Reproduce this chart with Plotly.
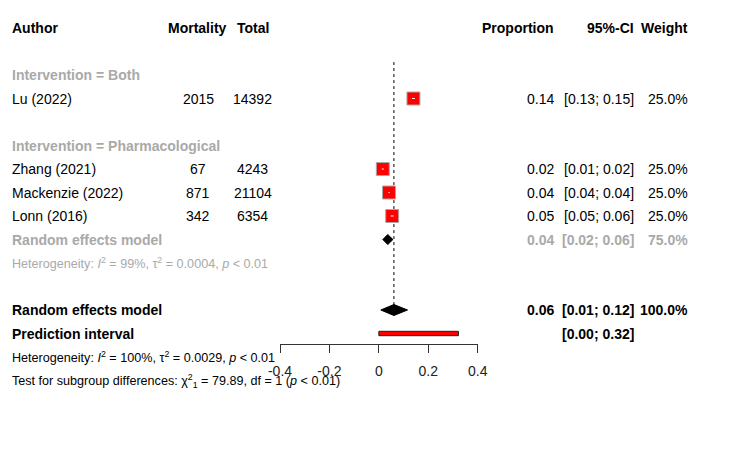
import plotly.graph_objects as go

# ---------------- data ----------------
authors = ["Lu (2022)", "Zhang (2021)", "Mackenzie (2022)", "Lonn (2016)"]
mortality = [2015, 67, 871, 342]
total = [14392, 4243, 21104, 6354]
prop = [0.140, 0.016, 0.041, 0.054]
lower = [0.134, 0.012, 0.039, 0.048]
upper = [0.146, 0.020, 0.044, 0.060]
weight = [25.0, 25.0, 25.0, 25.0]
study_rows = [3, 6, 7, 8]

group_labels = ["Intervention = Both", "Intervention = Pharmacological"]
group_rows = [2, 5]

sub_re = {"est": 0.036, "lo": 0.016, "hi": 0.057, "w": 75.0, "row": 9}
sub_het = "Heterogeneity: <i>I</i><sup>2</sup> = 99%, τ<sup>2</sup> = 0.0004, <i>p</i> &lt; 0.01"
overall = {"est": 0.061, "lo": 0.008, "hi": 0.116, "w": 100.0, "row": 12}
pred = {"lo": 0.000, "hi": 0.322, "row": 13}
het_all = "Heterogeneity: <i>I</i><sup>2</sup> = 100%, τ<sup>2</sup> = 0.0029, <i>p</i> &lt; 0.01"
test_sub = "Test for subgroup differences: χ<sup>2</sup><sub>1</sub> = 79.89, df = 1 (<i>p</i> &lt; 0.01)"

tick_vals = [-0.4, -0.2, 0, 0.2, 0.4]
tick_text = ["-0.4", "-0.2", "0", "0.2", "0.4"]

# ---------------- layout constants ----------------
W, H = 750, 456
ROW0, ROWH = 28, 23.5
FONT = "Liberation Sans, Arial, sans-serif"
GRAY = "#A9A9A9"
FS = 14
FS_SMALL = 12.6

def f2(v):
    return f"{v:.2f}"

def ci(lo, hi):
    return f"[{f2(lo)}; {f2(hi)}]"

fig = go.Figure()
ann = []

def txt(x, row, text, anchor="left", color="black", size=FS, bold=False):
    if bold:
        text = f"<b>{text}</b>"
    ann.append(dict(x=x / W, y=row, xref="paper", yref="y", text=text,
                    xanchor=anchor, yanchor="middle", showarrow=False,
                    font=dict(family=FONT, size=size, color=color),
                    borderpad=0))

# header
txt(11, 0, "Author", bold=True)
txt(197.5, 0, "Mortality", anchor="center", bold=True)
txt(253, 0, "Total", anchor="center", bold=True)
txt(555, 0, "Proportion", anchor="right", bold=True)
txt(635, 0, "95%-CI", anchor="right", bold=True)
txt(689, 0, "Weight", anchor="right", bold=True)

for lab, r in zip(group_labels, group_rows):
    txt(11, r, lab, color=GRAY, bold=True)

for a, m, t, p, lo, hi, w, r in zip(authors, mortality, total, prop, lower, upper, weight, study_rows):
    txt(11, r, a)
    txt(198, r, str(m), anchor="center")
    txt(252.5, r, str(t), anchor="center")
    txt(555, r, f2(p), anchor="right")
    txt(635, r, ci(lo, hi), anchor="right")
    txt(689, r, f"{w:.1f}%", anchor="right")

# subgroup random effects
r = sub_re["row"]
txt(11, r, "Random effects model", color=GRAY, bold=True)
txt(555, r, f2(sub_re["est"]), anchor="right", color=GRAY, bold=True)
txt(635, r, ci(sub_re["lo"], sub_re["hi"]), anchor="right", color=GRAY, bold=True)
txt(689, r, f"{sub_re['w']:.1f}%", anchor="right", color=GRAY, bold=True)
txt(11, 10, sub_het, color=GRAY, size=FS_SMALL)

# overall
r = overall["row"]
txt(11, r, "Random effects model", bold=True)
txt(555, r, f2(overall["est"]), anchor="right", bold=True)
txt(635, r, ci(overall["lo"], overall["hi"]), anchor="right", bold=True)
txt(689, r, f"{overall['w']:.1f}%", anchor="right", bold=True)
r = pred["row"]
txt(11, r, "Prediction interval", bold=True)
txt(635, r, ci(pred["lo"], pred["hi"]), anchor="right", bold=True)
txt(11, 14, het_all, size=FS_SMALL)
txt(11, 15, test_sub, size=FS_SMALL)

# ---------------- marks ----------------
# reference dotted line at overall estimate
fig.add_trace(go.Scatter(x=[overall["est"], overall["est"]], y=[1.45, 12],
                         mode="lines", line=dict(color="black", width=1, dash="dot"),
                         hoverinfo="skip"))

# study squares
fig.add_trace(go.Scatter(x=prop, y=study_rows, mode="markers",
                         marker=dict(symbol="square", size=13, color="#FF0000",
                                     line=dict(color="#AAAAAA", width=1)),
                         hoverinfo="skip"))
# CIs (white inside the squares)
for lo, hi, r in zip(lower, upper, study_rows):
    fig.add_trace(go.Scatter(x=[lo, hi], y=[r, r], mode="lines",
                             line=dict(color="white", width=1), hoverinfo="skip"))

def diamond(d, half):
    r = d["row"]
    fig.add_trace(go.Scatter(x=[d["lo"], d["est"], d["hi"], d["est"], d["lo"]],
                             y=[r, r - half, r, r + half, r],
                             mode="lines", fill="toself", fillcolor="black",
                             line=dict(color="black", width=1), hoverinfo="skip"))

diamond(sub_re, 5 / ROWH)
diamond(overall, 5.5 / ROWH)

# prediction interval bar
ph = 2.2 / ROWH
r = pred["row"]
fig.add_trace(go.Scatter(x=[pred["lo"], pred["hi"], pred["hi"], pred["lo"], pred["lo"]],
                         y=[r - ph, r - ph, r + ph, r + ph, r - ph],
                         mode="lines", fill="toself", fillcolor="#FF0000",
                         line=dict(color="#222222", width=1), hoverinfo="skip"))

fig.update_layout(
    width=W, height=H, autosize=False,
    margin=dict(l=0, r=0, t=0, b=0, pad=0, autoexpand=False),
    paper_bgcolor="white", plot_bgcolor="white",
    showlegend=False,
    annotations=ann,
    xaxis=dict(domain=[280 / W, 477.7 / W], range=[-0.4, 0.4],
               anchor="free", position=1 - 344 / H,
               showline=True, linecolor="#333333", linewidth=1,
               ticks="outside", ticklen=8, tickwidth=1, tickcolor="#333333",
               tickvals=tick_vals, ticktext=tick_text,
               tickfont=dict(family=FONT, size=FS, color="#222222"),
               ticklabelstandoff=6, automargin=False,
               showgrid=False, zeroline=False, fixedrange=True),
    yaxis=dict(domain=[0, 1], range=[(H - ROW0) / ROWH, -ROW0 / ROWH],
               visible=False, fixedrange=True, automargin=False),
)

fig.write_html("out.html")
